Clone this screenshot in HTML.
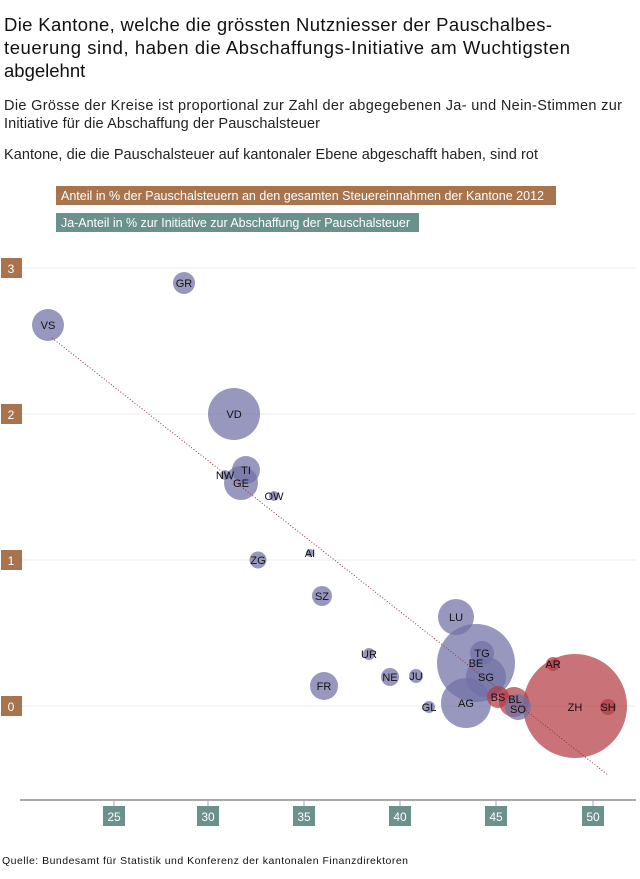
<!DOCTYPE html>
<html><head><meta charset="utf-8"><style>
body{margin:0;background:#fff;width:640px;height:879px;overflow:hidden}
svg{display:block;font-family:"Liberation Sans",sans-serif}
</style></head><body>
<svg width="640" height="879" viewBox="0 0 640 879">
<text font-size="18.5" fill="#111">
<tspan x="4" y="31" textLength="548">Die Kantone, welche die grössten Nutzniesser der Pauschalbes-</tspan>
<tspan x="4" y="54" textLength="566">teuerung sind, haben die Abschaffungs-Initiative am Wuchtigsten</tspan>
<tspan x="4" y="77">abgelehnt</tspan></text>
<text font-size="14.5" fill="#222"><tspan x="4" y="110" textLength="618">Die Grösse der Kreise ist proportional zur Zahl der abgegebenen Ja- und Nein-Stimmen zur</tspan>
<tspan x="4" y="128" textLength="316">Initiative für die Abschaffung der Pauschalsteuer</tspan>
<tspan x="4" y="159" textLength="534">Kantone, die die Pauschalsteuer auf kantonaler Ebene abgeschafft haben, sind rot</tspan></text>
<rect x="56" y="186" width="500" height="19" fill="#a8744d"/>
<text x="61" y="200" font-size="12.5" fill="#fff" textLength="483">Anteil in % der Pauschalsteuern an den gesamten Steuereinnahmen der Kantone 2012</text>
<rect x="56" y="213" width="363" height="19" fill="#6a918b"/>
<text x="61" y="227" font-size="12.5" fill="#fff" textLength="349">Ja-Anteil in % zur Initiative zur Abschaffung der Pauschalsteuer</text>
<g stroke="#eee" stroke-width="1">
<line x1="22" y1="268" x2="636" y2="268"/><line x1="22" y1="414" x2="636" y2="414"/>
<line x1="22" y1="560" x2="636" y2="560"/><line x1="22" y1="706" x2="636" y2="706"/></g>
<g fill="#a8744d"><rect x="1" y="258" width="21" height="20"/><rect x="1" y="404" width="21" height="20"/><rect x="1" y="550" width="21" height="20"/><rect x="1" y="696" width="21" height="20"/></g>
<g fill="#fff" font-size="12" text-anchor="middle"><text x="11" y="273">3</text><text x="11" y="419">2</text><text x="11" y="565">1</text><text x="11" y="711">0</text></g>
<line x1="20" y1="800" x2="636" y2="800" stroke="#aaa" stroke-width="2"/>
<g stroke="#aaa"><line x1="114" y1="800" x2="114" y2="806"/><line x1="208" y1="800" x2="208" y2="806"/><line x1="304" y1="800" x2="304" y2="806"/><line x1="400" y1="800" x2="400" y2="806"/><line x1="496" y1="800" x2="496" y2="806"/><line x1="593" y1="800" x2="593" y2="806"/></g>
<g fill="#6a918b"><rect x="103" y="806" width="22" height="20"/><rect x="197" y="806" width="22" height="20"/><rect x="293" y="806" width="22" height="20"/><rect x="389" y="806" width="22" height="20"/><rect x="485" y="806" width="22" height="20"/><rect x="582" y="806" width="22" height="20"/></g>
<g fill="#fff" font-size="12" text-anchor="middle"><text x="114" y="821">25</text><text x="208" y="821">30</text><text x="304" y="821">35</text><text x="400" y="821">40</text><text x="496" y="821">45</text><text x="593" y="821">50</text></g>
<g fill="rgb(112,112,165)" fill-opacity="0.72">
<circle cx="184" cy="283" r="11"/><circle cx="48" cy="325" r="16"/><circle cx="234" cy="414" r="26"/>
<circle cx="246" cy="470" r="14"/><circle cx="241" cy="483" r="17"/><circle cx="225" cy="475" r="5"/>
<circle cx="274" cy="496" r="5"/><circle cx="310" cy="553" r="4"/><circle cx="258" cy="560" r="8.5"/>
<circle cx="322" cy="596" r="10"/><circle cx="324" cy="686" r="14"/>
<circle cx="456" cy="617" r="18"/><circle cx="476" cy="663" r="39"/><circle cx="482" cy="653" r="12"/>
<circle cx="486" cy="677" r="20"/><circle cx="466" cy="703" r="25"/>
<circle cx="369" cy="654" r="6"/><circle cx="390" cy="677" r="9"/><circle cx="416" cy="676" r="7"/><circle cx="429" cy="707" r="6"/>
</g>
<g fill="rgb(180,60,68)" fill-opacity="0.72">
<circle cx="575" cy="706" r="52"/><circle cx="498" cy="697" r="11"/><circle cx="514" cy="702" r="15"/>
<circle cx="553" cy="664" r="7"/><circle cx="608" cy="707" r="8"/></g>
<circle cx="518" cy="707" r="13" fill="rgb(112,112,165)" fill-opacity="0.72"/>
<line x1="52" y1="338" x2="608" y2="775" stroke="#8a3a40" stroke-width="1" stroke-dasharray="1,2"/>
<g font-size="11" fill="#111" text-anchor="middle">
<text x="184" y="287">GR</text><text x="48" y="329">VS</text><text x="234" y="418">VD</text>
<text x="246" y="474">TI</text><text x="241" y="487">GE</text><text x="225" y="479">NW</text>
<text x="274" y="500">OW</text><text x="310" y="557">AI</text><text x="258" y="564">ZG</text>
<text x="322" y="600">SZ</text><text x="324" y="690">FR</text><text x="456" y="621">LU</text>
<text x="482" y="657">TG</text><text x="476" y="667">BE</text><text x="486" y="681">SG</text><text x="466" y="707">AG</text>
<text x="369" y="658">UR</text><text x="390" y="681">NE</text><text x="416" y="680">JU</text><text x="429" y="711">GL</text>
<text x="498" y="701">BS</text><text x="515" y="703">BL</text><text x="518" y="713">SO</text>
<text x="553" y="668">AR</text><text x="575" y="711">ZH</text><text x="608" y="711">SH</text></g>
<text x="2" y="864" font-size="10.5" fill="#111" textLength="406">Quelle: Bundesamt für Statistik und Konferenz der kantonalen Finanzdirektoren</text>
</svg>
</body></html>
